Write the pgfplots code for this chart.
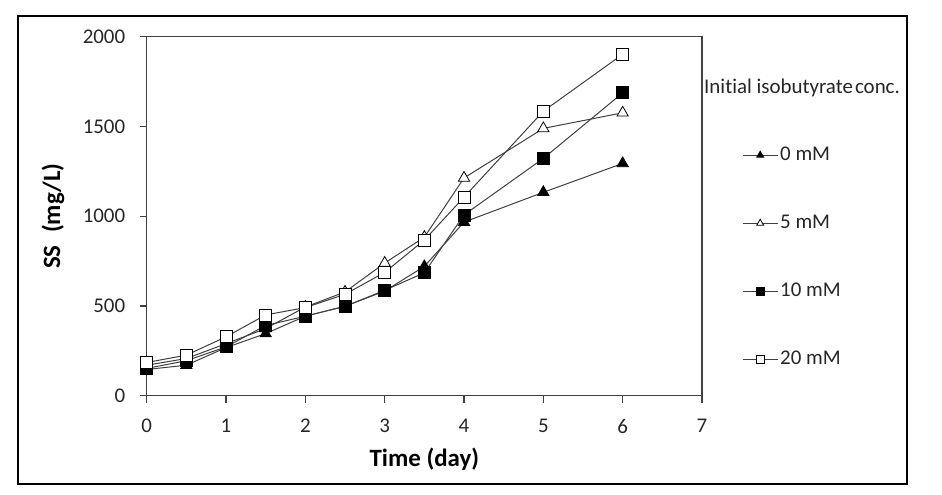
\documentclass[border=0pt]{standalone}
\usepackage{pgfplots}
\pgfplotsset{compat=1.18}
\usepackage{fontspec}
\setmainfont{Carlito}[Ligatures={NoCommon}]
\definecolor{txt}{gray}{0.15}
\definecolor{ln}{gray}{0.25}
\begin{document}
\begin{tikzpicture}[font=\fontsize{21}{25}\selectfont]
\useasboundingbox (-146.7bp,-99.3bp) rectangle (795.3bp,395.7bp);
\draw[black, line width=1.2bp] (-128.7bp,-88.3bp) rectangle (760.3bp,379.7bp);
\begin{axis}[
  at={(0,0)}, anchor=south west,
  scale only axis,
  width=555.3bp, height=359bp,
  xmin=0, xmax=7, ymin=0, ymax=2000,
  xtick={0,1,...,7}, ytick={0,500,...,2000},
  tick align=outside, xtick pos=left, ytick pos=left,
  major tick length=7bp,
  axis line style={ln, line width=1.1bp},
  every tick/.style={ln, line width=1.1bp},
  clip=false,
  /pgf/number format/assume math mode=true,
  /pgf/number format/1000 sep={},
  tick label style={font=\fontsize{21}{25}\selectfont, text=txt},
  xticklabel style={yshift=-13bp},
  yticklabel style={xshift=-11bp},
  xlabel={\textbf{Time (day)}}, ylabel={\textbf{SS\enspace(mg/L)}},
  every axis x label/.style={at={(axis description cs:0.5,-0.1777)}, anchor=center, font=\fontsize{25}{30}\selectfont},
  every axis y label/.style={at={(axis description cs:-0.1687,0.5)}, rotate=90, anchor=center, font=\fontsize{25}{30}\selectfont},
  legend image code/.code={\draw[#1] plot coordinates {(0bp,0bp) (17.5bp,0bp) (35bp,0bp)};},
  every legend image post/.append style={mark repeat=2, mark phase=2, mark size=4bp},
  legend style={at={(1.072,0.701)}, anchor=north west, draw=none, fill=none,
    inner sep=0pt, row sep=46bp, font=\fontsize{21}{25}\selectfont,
    nodes={inner sep=2bp, text height=14bp, text depth=4bp, text=txt}},
  legend cell align=left,
]
\addplot[ln, line width=1bp, mark=triangle*, mark size=6.5bp, mark options={fill=black, draw=black, line width=0.8bp}]
coordinates {(0,146) (0.5,170) (1,268) (1.5,346) (2,443) (2.5,498) (3,583) (3.5,720) (4,967) (5,1133) (6,1294)};
\addlegendentry{0 mM}
\addplot[ln, line width=1bp, mark=triangle*, mark size=6.5bp, mark options={fill=white, draw=black, line width=0.8bp}]
coordinates {(0,170) (0.5,207) (1,290) (1.5,374) (2,494) (2.5,578) (3,739) (3.5,883) (4,1213) (5,1489) (6,1576)};
\addlegendentry{5 mM}
\addplot[ln, line width=1bp, mark=square*, mark size=6bp, mark options={fill=black, draw=black, line width=0.8bp}]
coordinates {(0,152) (0.5,195) (1,272) (1.5,391) (2,443) (2.5,498) (3,587) (3.5,685) (4,1007) (5,1322) (6,1687)};
\addlegendentry{10 mM}
\addplot[ln, line width=1bp, mark=square*, mark size=6bp, mark options={fill=white, draw=black, line width=0.8bp}]
coordinates {(0,185) (0.5,226) (1,328) (1.5,450) (2,491) (2.5,565) (3,687) (3.5,867) (4,1106) (5,1585) (6,1902)};
\addlegendentry{20 mM}
\end{axis}
\node[anchor=west, text=txt, inner sep=0pt] at (557.3bp,307.7bp) {Initial isobutyrate\hspace{0.1em}conc.};
\end{tikzpicture}
\end{document}
